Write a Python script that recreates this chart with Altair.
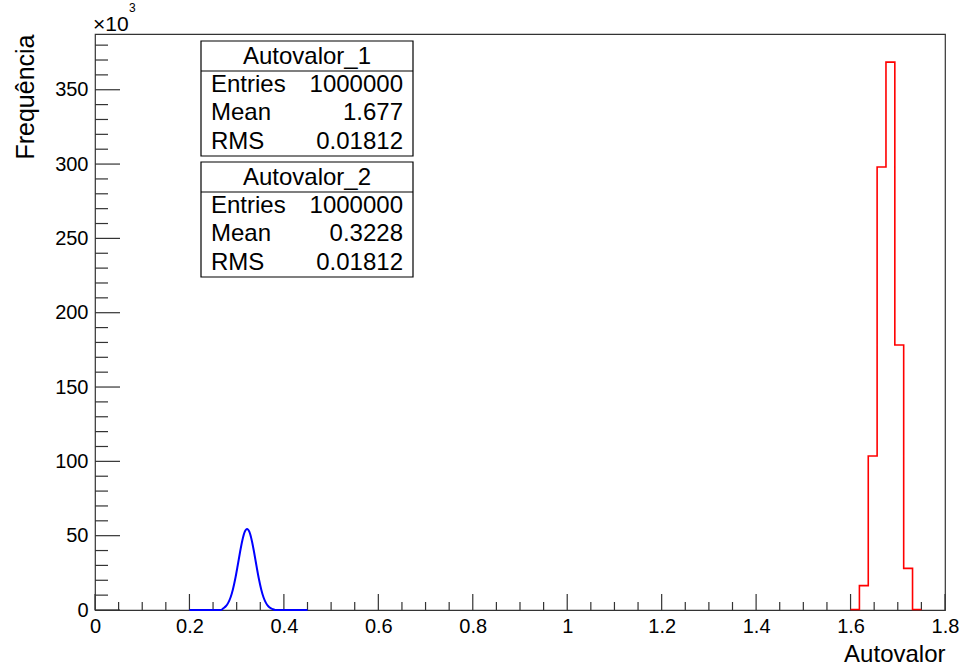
import altair as alt
import pandas as pd

# ---------------- data ----------------
# Autovalor_1 : histogram (bin edges, counts)
red_edges = [1.6, 1.61875, 1.6375, 1.65625, 1.675, 1.69375, 1.7125, 1.73125, 1.75]
red_counts = [300, 16400, 103600, 298000, 368600, 178300, 28000, 300]

# Autovalor_2 : fine histogram drawn as a curve (x, counts)
blue_x = [0.200, 0.2670, 0.2720, 0.2770, 0.2820, 0.2870, 0.2920, 0.2970, 0.3020,
          0.3070, 0.3120, 0.3170, 0.3220, 0.3270, 0.3320, 0.3370, 0.3420, 0.3470,
          0.3520, 0.3570, 0.3620, 0.3670, 0.3720, 0.3770, 0.3820, 0.450]
blue_counts = [0, 0, 1200, 2500, 4800, 8400, 13800, 21000, 29600,
               38700, 46800, 52500, 54500, 52500, 46800, 38700, 29600, 21000,
               13800, 8400, 4800, 2500, 1200, 500, 0, 0]

x_major = [0, 0.2, 0.4, 0.6, 0.8, 1.0, 1.2, 1.4, 1.6, 1.8]
x_minor = [0.05, 0.1, 0.15, 0.25, 0.3, 0.35, 0.45, 0.5, 0.55, 0.65, 0.7, 0.75,
           0.85, 0.9, 0.95, 1.05, 1.1, 1.15, 1.25, 1.3, 1.35, 1.45, 1.5, 1.55,
           1.65, 1.7, 1.75]
y_major = [0, 50000, 100000, 150000, 200000, 250000, 300000, 350000]
y_minor = [10000, 20000, 30000, 40000, 60000, 70000, 80000, 90000, 110000, 120000,
           130000, 140000, 160000, 170000, 180000, 190000, 210000, 220000, 230000,
           240000, 260000, 270000, 280000, 290000, 310000, 320000, 330000, 340000,
           360000, 370000, 380000]

stat_titles = ["Autovalor_1", "Autovalor_2"]
stat_labels = ["Entries", "Mean", "RMS"]
stat_values = [["1000000", "1.677", "0.01812"], ["1000000", "0.3228", "0.01812"]]

# ---------------- layout ----------------
W, H = 850, 576
FONT = "Liberation Sans"
FRAME = "#333333"
X_DOMAIN = [0, 1.8]
Y_DOMAIN = [0, 387500]

red_df = pd.DataFrame({"x": red_edges, "n": red_counts + [red_counts[-1]]})
blue_df = pd.DataFrame({"x": blue_x, "n": blue_counts})

xs = alt.Scale(domain=X_DOMAIN, nice=False, zero=False)
ys = alt.Scale(domain=Y_DOMAIN, nice=False)

x_axis = alt.Axis(values=x_major, ticks=False, tickSize=0, domain=False, grid=False,
                  labelFont=FONT, labelFontSize=20, labelColor="black", labelPadding=6,
                  labelFlush=False, format="~g",
                  title="Autovalor", titleFont=FONT, titleFontSize=24,
                  titleFontWeight="normal", titleColor="black", titleAnchor="end",
                  titleAlign="right", titleBaseline="alphabetic", titleX=W, titleY=51)
y_axis = alt.Axis(values=y_major, ticks=False, tickSize=0, domain=False, grid=False,
                  labelFont=FONT, labelFontSize=20, labelColor="black", labelPadding=7,
                  labelExpr="format(datum.value/1000, 'd')",
                  title="Frequência", titleFont=FONT, titleFontSize=25,
                  titleFontWeight="normal", titleColor="black", titleAngle=270,
                  titleAlign="right", titleBaseline="alphabetic", titleX=-62, titleY=0)

red = alt.Chart(red_df).mark_line(interpolate="step-after", color="#ff0000",
                                  strokeWidth=1.6).encode(
    x=alt.X("x:Q", scale=xs, axis=x_axis),
    y=alt.Y("n:Q", scale=ys, axis=y_axis),
)
blue = alt.Chart(blue_df).mark_line(interpolate="monotone", color="#0000ff",
                                    strokeWidth=2).encode(
    x=alt.X("x:Q", scale=xs), y=alt.Y("n:Q", scale=ys))

def xticks(vals, length):
    return alt.Chart(pd.DataFrame({"v": vals})).mark_rule(color=FRAME, strokeWidth=1.2).encode(
        x=alt.X("v:Q", scale=xs), y=alt.value(H), y2=alt.value(H - length))

def yticks(vals, length):
    return alt.Chart(pd.DataFrame({"v": vals})).mark_rule(color=FRAME, strokeWidth=1.2).encode(
        y=alt.Y("v:Q", scale=ys), x=alt.value(0), x2=alt.value(length))

layers = [xticks(x_major, 16), xticks(x_minor, 8), yticks(y_major, 25), yticks(y_minor, 13),
          blue, red]

one = pd.DataFrame({"a": [0]})
BX0, BX1 = 106, 318
box_tops = [7, 128]
box_h = 115
row_off = [51, 79, 108]
for b in range(2):
    top = box_tops[b]
    layers.append(alt.Chart(one).mark_rect(fill="white", stroke="black", strokeWidth=1.2).encode(
        x=alt.value(BX0), x2=alt.value(BX1), y=alt.value(top), y2=alt.value(top + box_h)))
    layers.append(alt.Chart(one).mark_rule(color="black", strokeWidth=1.2).encode(
        x=alt.value(BX0), x2=alt.value(BX1), y=alt.value(top + 30)))
    layers.append(alt.Chart(one).mark_text(text=stat_titles[b], font=FONT, fontSize=24,
                                           align="center", baseline="middle", color="black").encode(
        x=alt.value((BX0 + BX1) / 2), y=alt.value(top + 16)))
    for r in range(3):
        layers.append(alt.Chart(one).mark_text(text=stat_labels[r], font=FONT, fontSize=24,
                                               align="left", baseline="middle", color="black").encode(
            x=alt.value(BX0 + 10), y=alt.value(top + row_off[r] - 7)))
        layers.append(alt.Chart(one).mark_text(text=stat_values[b][r], font=FONT, fontSize=24,
                                               align="right", baseline="middle", color="black").encode(
            x=alt.value(BX1 - 10), y=alt.value(top + row_off[r] - 7)))

layers.append(alt.Chart(one).mark_text(text="×10", font=FONT, fontSize=21, align="left",
                                       baseline="alphabetic", color="black").encode(
    x=alt.value(-2), y=alt.value(-3)))
layers.append(alt.Chart(one).mark_text(text="3", font=FONT, fontSize=12, align="left",
                                       baseline="alphabetic", color="black").encode(
    x=alt.value(34), y=alt.value(-22)))

chart = alt.layer(*layers).properties(
    width=W, height=H,
    autosize=alt.AutoSizeParams(type="none"),
    padding={"left": 95, "top": 34, "right": 17, "bottom": 57},
    background="white",
).configure_view(stroke=FRAME, strokeWidth=1.2)

chart.save("out.html", embed_options={"renderer": "svg", "actions": False})
